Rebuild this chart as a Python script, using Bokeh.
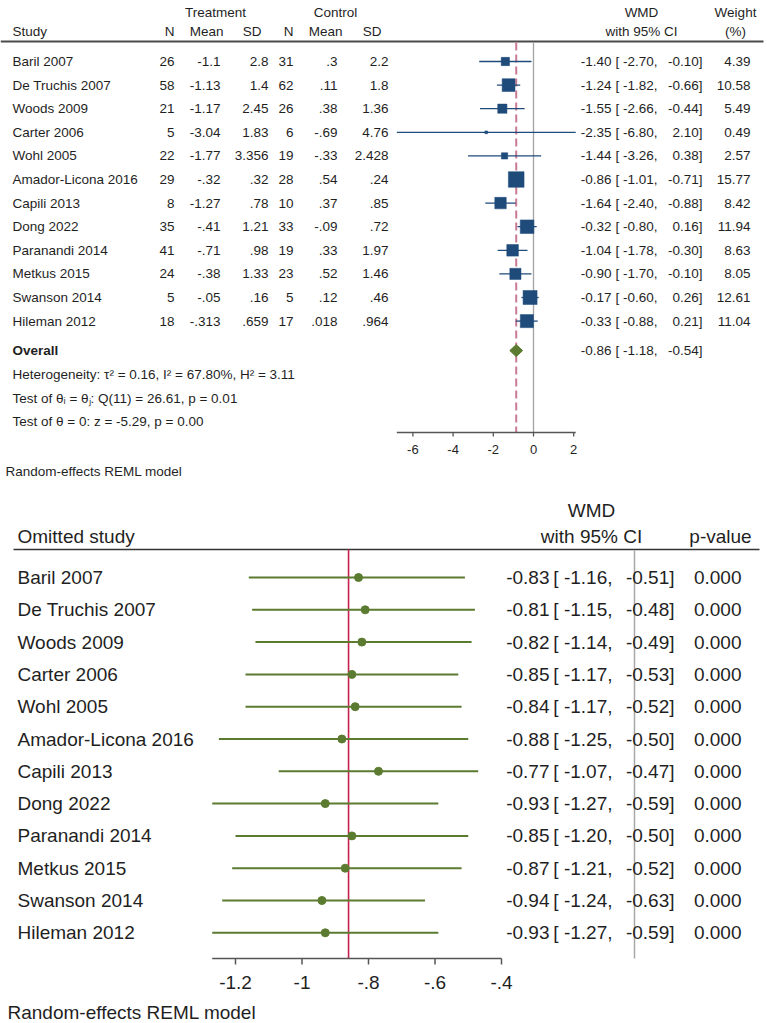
from bokeh.plotting import figure
from bokeh.layouts import column
from bokeh.models import Range1d
from bokeh.core.properties import value
from bokeh.embed import file_html
from bokeh.resources import INLINE

# ---------------------------------------------------------------- data
studies = ["Baril 2007", "De Truchis 2007", "Woods 2009", "Carter 2006", "Wohl 2005",
           "Amador-Licona 2016", "Capili 2013", "Dong 2022", "Paranandi 2014",
           "Metkus 2015", "Swanson 2014", "Hileman 2012"]

trt_n = [26, 58, 21, 5, 22, 29, 8, 35, 41, 24, 5, 18]
trt_mean = [-1.1, -1.13, -1.17, -3.04, -1.77, -0.32, -1.27, -0.41, -0.71, -0.38, -0.05, -0.313]
trt_sd = [2.8, 1.4, 2.45, 1.83, 3.356, 0.32, 0.78, 1.21, 0.98, 1.33, 0.16, 0.659]
ctl_n = [31, 62, 26, 6, 19, 28, 10, 33, 19, 23, 5, 17]
ctl_mean = [0.3, 0.11, 0.38, -0.69, -0.33, 0.54, 0.37, -0.09, 0.33, 0.52, 0.12, 0.018]
ctl_sd = [2.2, 1.8, 1.36, 4.76, 2.428, 0.24, 0.85, 0.72, 1.97, 1.46, 0.46, 0.964]

wmd = [-1.40, -1.24, -1.55, -2.35, -1.44, -0.86, -1.64, -0.32, -1.04, -0.90, -0.17, -0.33]
wmd_lo = [-2.70, -1.82, -2.66, -6.80, -3.26, -1.01, -2.40, -0.80, -1.78, -1.70, -0.60, -0.88]
wmd_hi = [-0.10, -0.66, -0.44, 2.10, 0.38, -0.71, -0.88, 0.16, -0.30, -0.10, 0.26, 0.21]
weight = [4.39, 10.58, 5.49, 0.49, 2.57, 15.77, 8.42, 11.94, 8.63, 8.05, 12.61, 11.04]

overall = [-0.86, -1.18, -0.54]  # estimate, lower, upper

top_ticks = [-6, -4, -2, 0, 2]

# leave-one-out sensitivity analysis
loo_est = [-0.83, -0.81, -0.82, -0.85, -0.84, -0.88, -0.77, -0.93, -0.85, -0.87, -0.94, -0.93]
loo_lo = [-1.16, -1.15, -1.14, -1.17, -1.17, -1.25, -1.07, -1.27, -1.20, -1.21, -1.24, -1.27]
loo_hi = [-0.51, -0.48, -0.49, -0.53, -0.52, -0.50, -0.47, -0.59, -0.50, -0.52, -0.63, -0.59]
loo_p = [0.000, 0.000, 0.000, 0.000, 0.000, 0.000, 0.000, 0.000, 0.000, 0.000, 0.000, 0.000]

bottom_ticks = [-1.2, -1.0, -0.8, -0.6, -0.4]
bottom_tick_labels = ["-1.2", "-1", "-.8", "-.6", "-.4"]

# ---------------------------------------------------------------- style
FONT = value("Liberation Sans")
INK = "#1f1f1f"
NAVY = "#1f4b7a"
GREEN = "#5b7b30"
W = 767
H_TOP = 484
H_BOT = 1023 - H_TOP


def stata(v):
    s = f"{v:g}"
    if s.startswith("0."):
        s = s[1:]
    elif s.startswith("-0."):
        s = "-" + s[2:]
    return s


def blank(height, x0, scale, y_top):
    p = figure(width=W, height=height, output_backend="svg", toolbar_location=None,
               x_axis_type=None, y_axis_type=None,
               x_range=Range1d(-x0 / scale, (W - x0) / scale),
               y_range=Range1d(y_top + height, y_top),
               min_border=0, min_border_left=0, min_border_right=0,
               min_border_top=0, min_border_bottom=0,
               outline_line_color=None, background_fill_color="white",
               border_fill_color="white")
    p.xgrid.visible = False
    p.ygrid.visible = False
    return p


def put(p, xs, ys, texts, size, align="left", bold=False, color=INK):
    p.text(x=xs, y=ys, text=texts, text_font=FONT, text_font_size=size,
           text_align=align, text_baseline="middle", text_color=color,
           text_font_style="bold" if bold else "normal")


# ================================================================ top: forest plot
ZERO_T, SCALE_T = 533.0, 20.1
top = blank(H_TOP, ZERO_T, SCALE_T, 0)


def tx(px):
    return (px - ZERO_T) / SCALE_T


ROW0, ROWH = 61.0, 23.6
n = len(studies)
ys = [ROW0 + ROWH * i for i in range(n)]
y_overall = ROW0 + ROWH * 12.25
y_axis = 432.0
FS = "13.5px"

# column headers
put(top, [tx(215), tx(335)], [12, 12], ["Treatment", "Control"], FS, "center")
put(top, [tx(12)], [31], ["Study"], FS)
put(top, [tx(174), tx(223), tx(261), tx(293), tx(342), tx(381)], [31] * 6,
    ["N", "Mean", "SD", "N", "Mean", "SD"], FS, "right")
put(top, [tx(641), tx(641)], [12, 31], ["WMD", "with 95% CI"], FS, "center")
put(top, [tx(735), tx(735)], [12, 31], ["Weight", "(%)"], FS, "center")
top.segment(x0=[tx(0)], x1=[tx(763)], y0=[41], y1=[41], line_color="#4a4a4a", line_width=2)

# study table
put(top, [tx(12)] * n, ys, studies, FS)
put(top, [tx(174)] * n, ys, [str(v) for v in trt_n], FS, "right")
put(top, [tx(220)] * n, ys, [stata(v) for v in trt_mean], FS, "right")
put(top, [tx(268)] * n, ys, [stata(v) for v in trt_sd], FS, "right")
put(top, [tx(293)] * n, ys, [str(v) for v in ctl_n], FS, "right")
put(top, [tx(337)] * n, ys, [stata(v) for v in ctl_mean], FS, "right")
put(top, [tx(388)] * n, ys, [stata(v) for v in ctl_sd], FS, "right")

# reference lines
top.segment(x0=[0], x1=[0], y0=[42], y1=[y_axis], line_color="#a3a3a3", line_width=1.3)
top.segment(x0=[overall[0]], x1=[overall[0]], y0=[42], y1=[y_axis],
            line_color="#c97a92", line_width=2, line_dash="8 4")

# confidence intervals and weighted squares
top.segment(x0=wmd_lo, x1=wmd_hi, y0=ys, y1=ys, line_color=NAVY, line_width=1.3)
top.scatter(x=wmd, y=ys, marker="square", size=[3.95 * w ** 0.5 for w in weight],
            fill_color=NAVY, line_color=NAVY, line_width=0.5)

# pooled estimate diamond
est, lo, hi = overall
top.patch(x=[lo, est, hi, est], y=[y_overall, y_overall - 6, y_overall, y_overall + 6],
          fill_color=GREEN, line_color=GREEN)

# estimate columns
all_y = ys + [y_overall]
put(top, [tx(611)] * (n + 1), all_y, [f"{v:.2f}" for v in wmd + [est]], FS, "right")
put(top, [tx(657)] * (n + 1), all_y, [f"[ {v:.2f}," for v in wmd_lo + [lo]], FS, "right")
put(top, [tx(702)] * (n + 1), all_y, [f"{v:.2f}]" for v in wmd_hi + [hi]], FS, "right")
put(top, [tx(750)] * n, ys, [f"{v:.2f}" for v in weight], FS, "right")

# summary lines
put(top, [tx(12)], [y_overall], ["Overall"], FS, bold=True)
put(top, [tx(12)] * 3, [374, 398, 421],
    ["Heterogeneity: \u03c4\u00b2 = 0.16, I\u00b2 = 67.80%, H\u00b2 = 3.11",
     "Test of \u03b8\u1d62 = \u03b8\u2c7c: Q(11) = 26.61, p = 0.01",
     "Test of \u03b8 = 0: z = -5.29, p = 0.00"], FS)

# x axis
top.segment(x0=[min(wmd_lo)], x1=[max(wmd_hi)], y0=[y_axis], y1=[y_axis],
            line_color="#555555", line_width=1.3)
top.segment(x0=top_ticks, x1=top_ticks, y0=[y_axis] * 5, y1=[y_axis + 4] * 5,
            line_color="#555555", line_width=1.3)
put(top, top_ticks, [449] * 5, [str(t) for t in top_ticks], "13px", "center")

put(top, [tx(5)], [471], ["Random-effects REML model"], FS)

# ================================================================ bottom: leave-one-out
ZERO_B, SCALE_B = 634.0, 332.5
bot = blank(H_BOT, ZERO_B, SCALE_B, H_TOP)


def bx(px):
    return (px - ZERO_B) / SCALE_B


FB = "19px"
ROWB0, ROWBH = 577.0, 32.3
yb = [ROWB0 + ROWBH * i for i in range(n)]
yb_axis = 958.0

put(bot, [bx(591)], [510], ["WMD"], FB, "center")
put(bot, [bx(591)], [536], ["with 95% CI"], FB, "center")
put(bot, [bx(720)], [536], ["p-value"], FB, "center")
put(bot, [bx(17)], [536], ["Omitted study"], FB)
bot.segment(x0=[bx(13)], x1=[bx(759)], y0=[549], y1=[549], line_color="#333333", line_width=1.5)

put(bot, [bx(17)] * n, yb, studies, FB)

# reference lines
bot.segment(x0=[0], x1=[0], y0=[550], y1=[yb_axis], line_color="#a8a8a8", line_width=1.5)
bot.segment(x0=[overall[0]], x1=[overall[0]], y0=[549], y1=[yb_axis],
            line_color="#c8204c", line_width=1.6)

bot.segment(x0=loo_lo, x1=loo_hi, y0=yb, y1=yb, line_color=GREEN, line_width=2)
bot.scatter(x=loo_est, y=yb, marker="circle", size=8, fill_color=GREEN, line_color=GREEN)

put(bot, [bx(549)] * n, yb, [f"{v:.2f}" for v in loo_est], FB, "right")
put(bot, [bx(612)] * n, yb, [f"[ {v:.2f}," for v in loo_lo], FB, "right")
put(bot, [bx(674)] * n, yb, [f"{v:.2f}]" for v in loo_hi], FB, "right")
put(bot, [bx(741)] * n, yb, [f"{v:.3f}" for v in loo_p], FB, "right")

# x axis
bot.segment(x0=[min(loo_lo)], x1=[bottom_ticks[-1]], y0=[yb_axis], y1=[yb_axis],
            line_color="#555555", line_width=1.5)
bot.segment(x0=bottom_ticks, x1=bottom_ticks, y0=[yb_axis] * 5, y1=[yb_axis + 6] * 5,
            line_color="#555555", line_width=1.5)
put(bot, bottom_ticks, [982] * 5, bottom_tick_labels, FB, "center")

put(bot, [bx(7)], [1012], ["Random-effects REML model"], FB)

layout = column(top, bot, spacing=0)
open("out.html", "w").write(file_html(layout, INLINE))
